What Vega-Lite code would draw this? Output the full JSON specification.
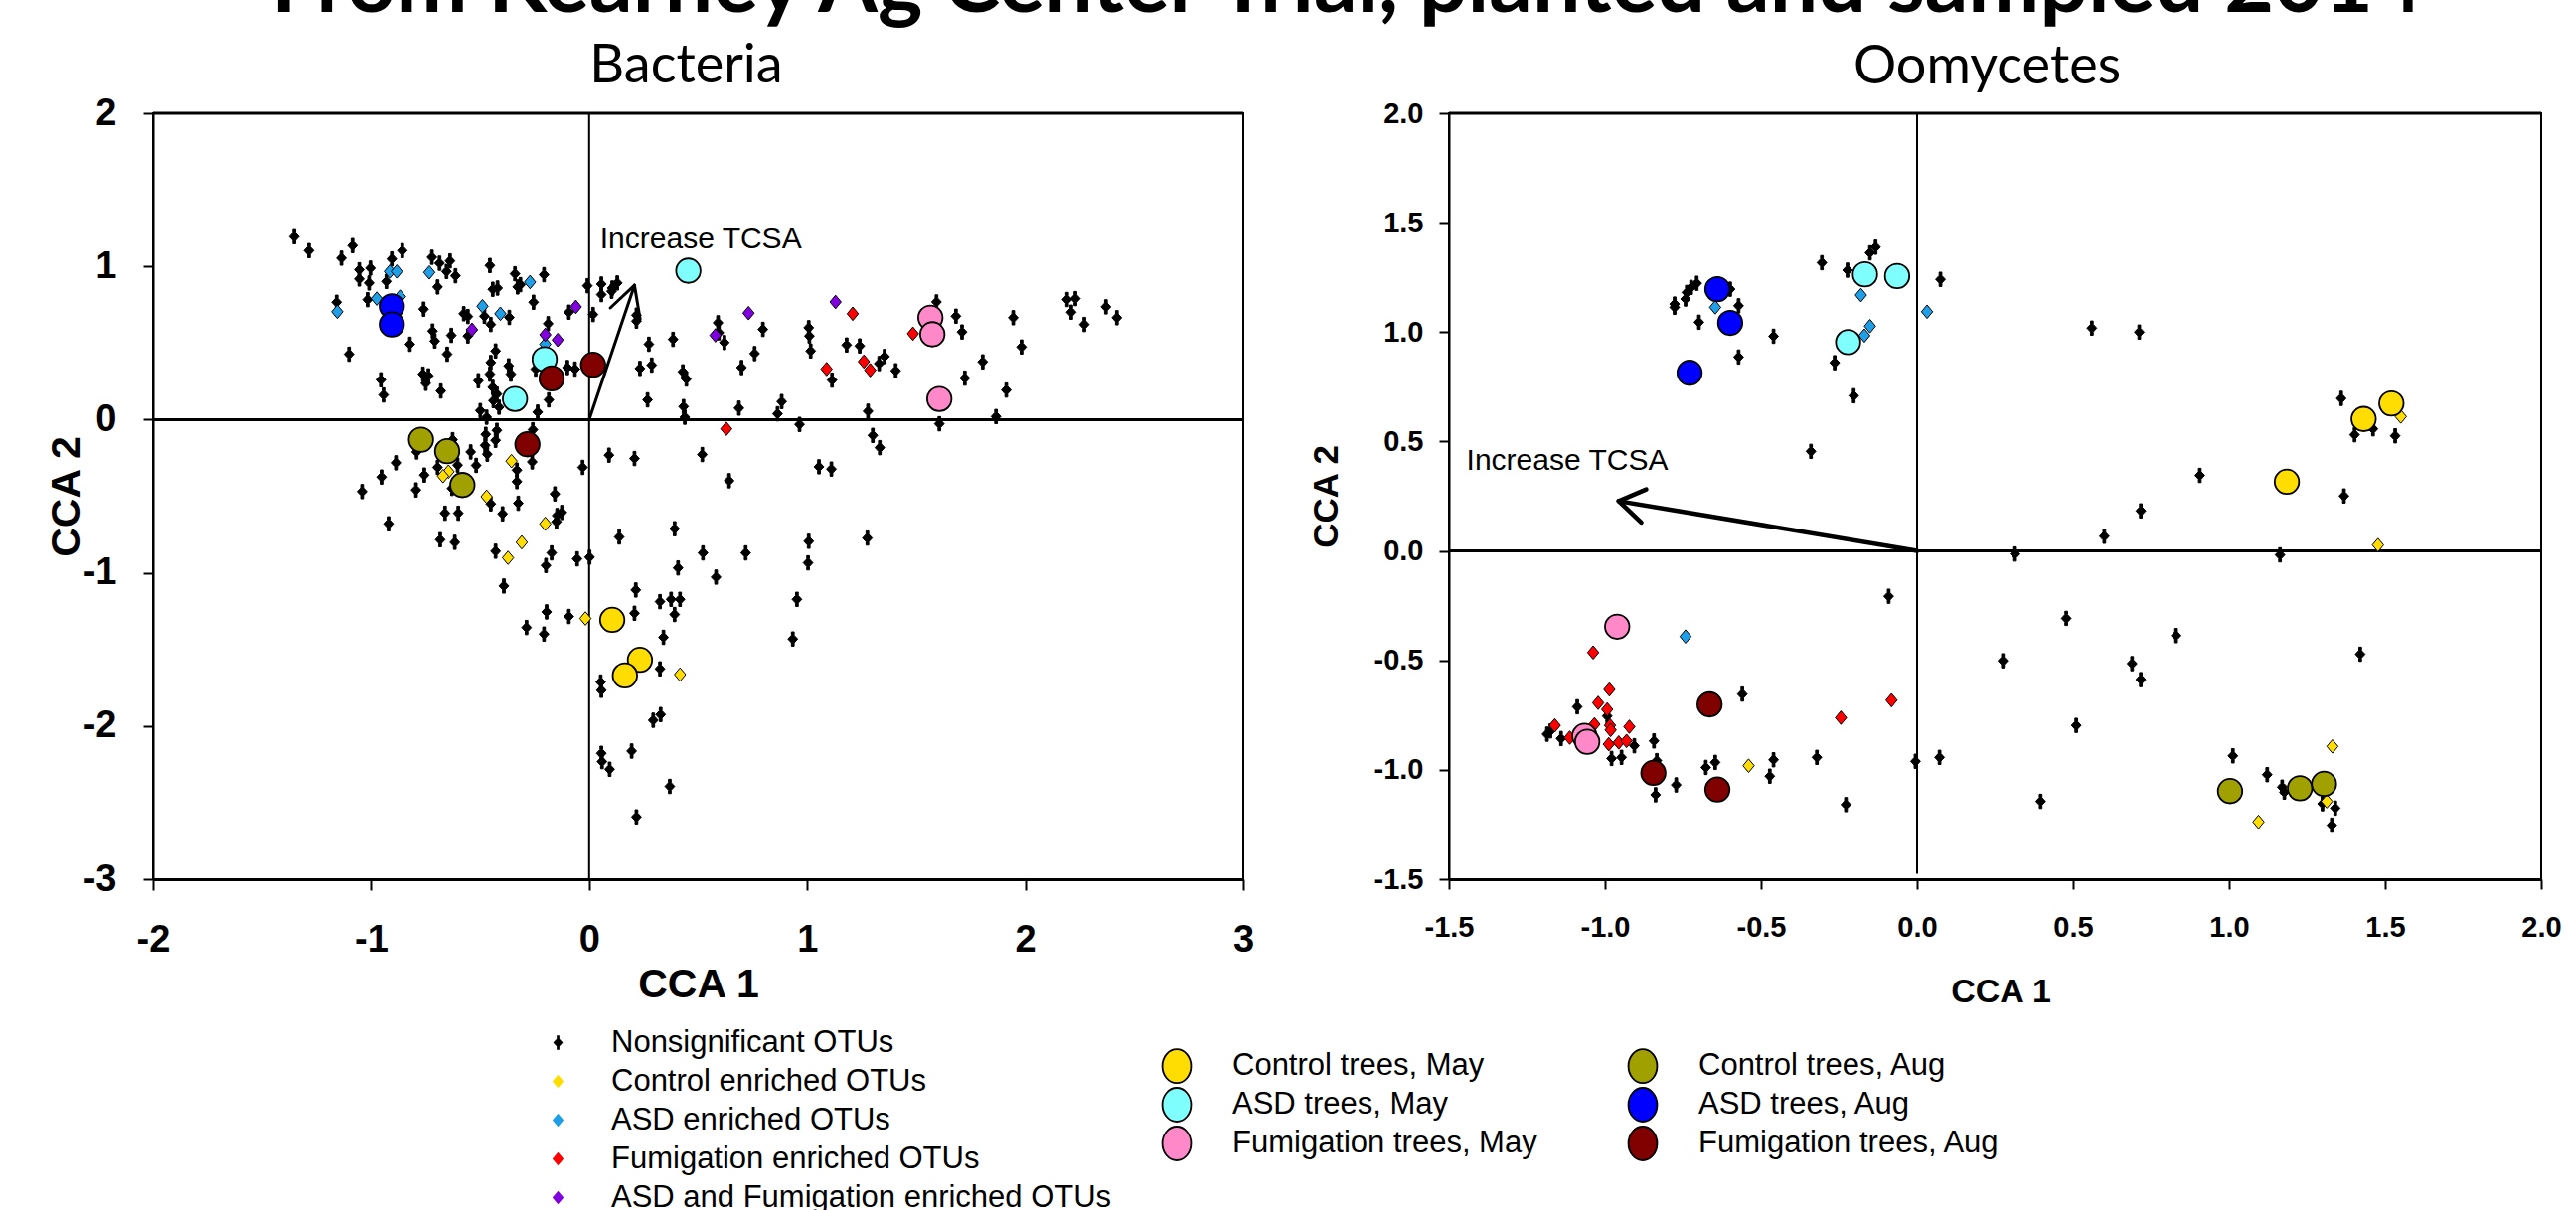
{
  "$schema": "https://vega.github.io/schema/vega-lite/v6.json",
  "autosize": {"type": "none"},
  "padding": {"left": 154, "top": 114, "right": 2438, "bottom": 1104},
  "background": "white",
  "title": {"text": "From Kearney Ag Center Trial, planted and sampled 2014", "font": "Lato", "fontSize": 86, "fontWeight": "bold", "color": "black", "anchor": "start", "frame": "group", "dx": 119, "baseline": "alphabetic", "offset": -59},
  "bounds": "flush",
  "spacing": 207,
  "datasets": {
    "bacOTU": [
      {"x":-1.352,"y":1.194,"t":"Nonsignificant OTUs"},{"x":-1.285,"y":1.103,"t":"Nonsignificant OTUs"},{"x":-1.136,"y":1.054,"t":"Nonsignificant OTUs"},{"x":-1.085,"y":1.136,"t":"Nonsignificant OTUs"},{"x":-1.054,"y":0.978,"t":"Nonsignificant OTUs"},{"x":-1.054,"y":0.918,"t":"Nonsignificant OTUs"},{"x":-1.003,"y":0.989,"t":"Nonsignificant OTUs"},{"x":-1.009,"y":0.892,"t":"Nonsignificant OTUs"},{"x":-0.930,"y":0.902,"t":"Nonsignificant OTUs"},{"x":-0.905,"y":1.049,"t":"Nonsignificant OTUs"},
      {"x":-0.857,"y":1.103,"t":"Nonsignificant OTUs"},{"x":-0.721,"y":1.060,"t":"Nonsignificant OTUs"},{"x":-0.686,"y":1.021,"t":"Nonsignificant OTUs"},{"x":-0.638,"y":1.036,"t":"Nonsignificant OTUs"},{"x":-0.654,"y":0.967,"t":"Nonsignificant OTUs"},{"x":-0.613,"y":0.939,"t":"Nonsignificant OTUs"},{"x":-0.695,"y":0.866,"t":"Nonsignificant OTUs"},{"x":-0.455,"y":1.006,"t":"Nonsignificant OTUs"},{"x":-0.340,"y":0.952,"t":"Nonsignificant OTUs"},{"x":-0.328,"y":0.866,"t":"Nonsignificant OTUs"},
      {"x":-0.315,"y":0.881,"t":"Nonsignificant OTUs"},{"x":-0.442,"y":0.851,"t":"Nonsignificant OTUs"},{"x":-0.420,"y":0.859,"t":"Nonsignificant OTUs"},{"x":-0.207,"y":0.946,"t":"Nonsignificant OTUs"},{"x":-0.255,"y":0.766,"t":"Nonsignificant OTUs"},{"x":-0.008,"y":0.874,"t":"Nonsignificant OTUs"},{"x":0.056,"y":0.885,"t":"Nonsignificant OTUs"},{"x":0.056,"y":0.816,"t":"Nonsignificant OTUs"},{"x":0.106,"y":0.859,"t":"Nonsignificant OTUs"},{"x":0.129,"y":0.892,"t":"Nonsignificant OTUs"},
      {"x":0.103,"y":0.838,"t":"Nonsignificant OTUs"},{"x":-1.158,"y":0.766,"t":"Nonsignificant OTUs"},{"x":-1.016,"y":0.783,"t":"Nonsignificant OTUs"},{"x":-0.759,"y":0.721,"t":"Nonsignificant OTUs"},{"x":-0.575,"y":0.691,"t":"Nonsignificant OTUs"},{"x":-0.556,"y":0.673,"t":"Nonsignificant OTUs"},{"x":-0.480,"y":0.675,"t":"Nonsignificant OTUs"},{"x":-0.451,"y":0.621,"t":"Nonsignificant OTUs"},{"x":-0.366,"y":0.667,"t":"Nonsignificant OTUs"},{"x":-0.188,"y":0.626,"t":"Nonsignificant OTUs"},
      {"x":-0.093,"y":0.701,"t":"Nonsignificant OTUs"},{"x":0.018,"y":0.686,"t":"Nonsignificant OTUs"},{"x":0.217,"y":0.682,"t":"Nonsignificant OTUs"},{"x":0.217,"y":0.643,"t":"Nonsignificant OTUs"},{"x":-0.718,"y":0.578,"t":"Nonsignificant OTUs"},{"x":-0.708,"y":0.513,"t":"Nonsignificant OTUs"},{"x":-0.632,"y":0.550,"t":"Nonsignificant OTUs"},{"x":-0.556,"y":0.546,"t":"Nonsignificant OTUs"},{"x":-0.822,"y":0.492,"t":"Nonsignificant OTUs"},{"x":-1.101,"y":0.427,"t":"Nonsignificant OTUs"},
      {"x":-0.651,"y":0.427,"t":"Nonsignificant OTUs"},{"x":-0.429,"y":0.448,"t":"Nonsignificant OTUs"},{"x":-0.451,"y":0.373,"t":"Nonsignificant OTUs"},{"x":-0.369,"y":0.351,"t":"Nonsignificant OTUs"},{"x":-0.359,"y":0.297,"t":"Nonsignificant OTUs"},{"x":-0.455,"y":0.297,"t":"Nonsignificant OTUs"},{"x":-0.762,"y":0.297,"t":"Nonsignificant OTUs"},{"x":-0.737,"y":0.286,"t":"Nonsignificant OTUs"},{"x":-0.749,"y":0.237,"t":"Nonsignificant OTUs"},{"x":-0.680,"y":0.187,"t":"Nonsignificant OTUs"},
      {"x":-0.955,"y":0.260,"t":"Nonsignificant OTUs"},{"x":-0.943,"y":0.161,"t":"Nonsignificant OTUs"},{"x":-0.508,"y":0.254,"t":"Nonsignificant OTUs"},{"x":-0.442,"y":0.211,"t":"Nonsignificant OTUs"},{"x":-0.423,"y":0.167,"t":"Nonsignificant OTUs"},{"x":-0.439,"y":0.124,"t":"Nonsignificant OTUs"},{"x":-0.413,"y":0.081,"t":"Nonsignificant OTUs"},{"x":-0.499,"y":0.059,"t":"Nonsignificant OTUs"},{"x":-0.470,"y":0.016,"t":"Nonsignificant OTUs"},{"x":-0.236,"y":0.049,"t":"Nonsignificant OTUs"},
      {"x":-0.185,"y":0.129,"t":"Nonsignificant OTUs"},{"x":-0.245,"y":0.330,"t":"Nonsignificant OTUs"},{"x":-0.100,"y":0.340,"t":"Nonsignificant OTUs"},{"x":-0.065,"y":0.330,"t":"Nonsignificant OTUs"},{"x":0.274,"y":0.492,"t":"Nonsignificant OTUs"},{"x":0.385,"y":0.524,"t":"Nonsignificant OTUs"},{"x":0.591,"y":0.632,"t":"Nonsignificant OTUs"},{"x":0.595,"y":0.567,"t":"Nonsignificant OTUs"},{"x":0.797,"y":0.589,"t":"Nonsignificant OTUs"},{"x":0.620,"y":0.503,"t":"Nonsignificant OTUs"},
      {"x":0.759,"y":0.431,"t":"Nonsignificant OTUs"},{"x":0.233,"y":0.334,"t":"Nonsignificant OTUs"},{"x":0.287,"y":0.356,"t":"Nonsignificant OTUs"},{"x":0.430,"y":0.312,"t":"Nonsignificant OTUs"},{"x":0.446,"y":0.265,"t":"Nonsignificant OTUs"},{"x":0.699,"y":0.340,"t":"Nonsignificant OTUs"},{"x":0.268,"y":0.129,"t":"Nonsignificant OTUs"},{"x":0.433,"y":0.085,"t":"Nonsignificant OTUs"},{"x":0.439,"y":0.016,"t":"Nonsignificant OTUs"},{"x":0.687,"y":0.075,"t":"Nonsignificant OTUs"},
      {"x":0.883,"y":0.118,"t":"Nonsignificant OTUs"},{"x":0.864,"y":0.038,"t":"Nonsignificant OTUs"},{"x":1.007,"y":0.600,"t":"Nonsignificant OTUs"},{"x":1.010,"y":0.546,"t":"Nonsignificant OTUs"},{"x":1.016,"y":0.448,"t":"Nonsignificant OTUs"},{"x":1.181,"y":0.487,"t":"Nonsignificant OTUs"},{"x":1.241,"y":0.481,"t":"Nonsignificant OTUs"},{"x":1.114,"y":0.258,"t":"Nonsignificant OTUs"},{"x":1.355,"y":0.412,"t":"Nonsignificant OTUs"},{"x":1.330,"y":0.366,"t":"Nonsignificant OTUs"},
      {"x":1.406,"y":0.319,"t":"Nonsignificant OTUs"},{"x":1.279,"y":0.055,"t":"Nonsignificant OTUs"},{"x":1.593,"y":0.768,"t":"Nonsignificant OTUs"},{"x":1.682,"y":0.675,"t":"Nonsignificant OTUs"},{"x":1.710,"y":0.572,"t":"Nonsignificant OTUs"},{"x":1.723,"y":0.271,"t":"Nonsignificant OTUs"},{"x":1.805,"y":0.377,"t":"Nonsignificant OTUs"},{"x":1.945,"y":0.665,"t":"Nonsignificant OTUs"},{"x":1.983,"y":0.474,"t":"Nonsignificant OTUs"},{"x":1.913,"y":0.193,"t":"Nonsignificant OTUs"},
      {"x":1.866,"y":0.020,"t":"Nonsignificant OTUs"},{"x":2.192,"y":0.784,"t":"Nonsignificant OTUs"},{"x":2.230,"y":0.790,"t":"Nonsignificant OTUs"},{"x":2.211,"y":0.701,"t":"Nonsignificant OTUs"},{"x":2.271,"y":0.621,"t":"Nonsignificant OTUs"},{"x":2.370,"y":0.736,"t":"Nonsignificant OTUs"},{"x":2.420,"y":0.665,"t":"Nonsignificant OTUs"},{"x":1.606,"y":-0.027,"t":"Nonsignificant OTUs"},{"x":0.965,"y":-0.031,"t":"Nonsignificant OTUs"},
      {"x":1.301,"y":-0.103,"t":"Nonsignificant OTUs"},{"x":1.333,"y":-0.183,"t":"Nonsignificant OTUs"},{"x":-0.423,"y":-0.070,"t":"Nonsignificant OTUs"},{"x":-0.474,"y":-0.096,"t":"Nonsignificant OTUs"},{"x":-0.429,"y":-0.135,"t":"Nonsignificant OTUs"},{"x":-0.477,"y":-0.168,"t":"Nonsignificant OTUs"},{"x":-0.467,"y":-0.226,"t":"Nonsignificant OTUs"},{"x":-0.258,"y":-0.066,"t":"Nonsignificant OTUs"},{"x":-0.626,"y":-0.131,"t":"Nonsignificant OTUs"},{"x":-0.791,"y":-0.211,"t":"Nonsignificant OTUs"},
      {"x":-0.543,"y":-0.211,"t":"Nonsignificant OTUs"},{"x":-0.886,"y":-0.282,"t":"Nonsignificant OTUs"},{"x":-0.695,"y":-0.312,"t":"Nonsignificant OTUs"},{"x":-0.603,"y":-0.297,"t":"Nonsignificant OTUs"},{"x":-0.518,"y":-0.299,"t":"Nonsignificant OTUs"},{"x":-0.331,"y":-0.330,"t":"Nonsignificant OTUs"},{"x":-0.331,"y":-0.405,"t":"Nonsignificant OTUs"},{"x":-0.261,"y":-0.276,"t":"Nonsignificant OTUs"},{"x":-0.756,"y":-0.362,"t":"Nonsignificant OTUs"},{"x":-0.952,"y":-0.375,"t":"Nonsignificant OTUs"},
      {"x":-1.041,"y":-0.470,"t":"Nonsignificant OTUs"},{"x":-0.794,"y":-0.459,"t":"Nonsignificant OTUs"},{"x":-0.629,"y":-0.449,"t":"Nonsignificant OTUs"},{"x":-0.157,"y":-0.485,"t":"Nonsignificant OTUs"},{"x":-0.451,"y":-0.550,"t":"Nonsignificant OTUs"},{"x":-0.325,"y":-0.546,"t":"Nonsignificant OTUs"},{"x":-0.661,"y":-0.611,"t":"Nonsignificant OTUs"},{"x":-0.600,"y":-0.611,"t":"Nonsignificant OTUs"},{"x":-0.397,"y":-0.615,"t":"Nonsignificant OTUs"},{"x":-0.125,"y":-0.606,"t":"Nonsignificant OTUs"},
      {"x":-0.147,"y":-0.626,"t":"Nonsignificant OTUs"},{"x":-0.150,"y":-0.667,"t":"Nonsignificant OTUs"},{"x":-0.920,"y":-0.680,"t":"Nonsignificant OTUs"},{"x":-0.683,"y":-0.784,"t":"Nonsignificant OTUs"},{"x":-0.616,"y":-0.801,"t":"Nonsignificant OTUs"},{"x":-0.429,"y":-0.859,"t":"Nonsignificant OTUs"},{"x":-0.172,"y":-0.870,"t":"Nonsignificant OTUs"},{"x":-0.055,"y":-0.909,"t":"Nonsignificant OTUs"},{"x":0.002,"y":-0.898,"t":"Nonsignificant OTUs"},{"x":-0.198,"y":-0.952,"t":"Nonsignificant OTUs"},
      {"x":-0.391,"y":-1.086,"t":"Nonsignificant OTUs"},{"x":-0.195,"y":-1.255,"t":"Nonsignificant OTUs"},{"x":-0.093,"y":-1.285,"t":"Nonsignificant OTUs"},{"x":-0.287,"y":-1.357,"t":"Nonsignificant OTUs"},{"x":-0.207,"y":-1.400,"t":"Nonsignificant OTUs"},{"x":-0.030,"y":-0.312,"t":"Nonsignificant OTUs"},{"x":0.091,"y":-0.232,"t":"Nonsignificant OTUs"},{"x":0.208,"y":-0.254,"t":"Nonsignificant OTUs"},{"x":0.519,"y":-0.228,"t":"Nonsignificant OTUs"},{"x":0.642,"y":-0.399,"t":"Nonsignificant OTUs"},
      {"x":1.054,"y":-0.308,"t":"Nonsignificant OTUs"},{"x":1.111,"y":-0.323,"t":"Nonsignificant OTUs"},{"x":0.392,"y":-0.712,"t":"Nonsignificant OTUs"},{"x":0.138,"y":-0.766,"t":"Nonsignificant OTUs"},{"x":1.007,"y":-0.794,"t":"Nonsignificant OTUs"},{"x":1.276,"y":-0.773,"t":"Nonsignificant OTUs"},{"x":0.522,"y":-0.870,"t":"Nonsignificant OTUs"},{"x":0.718,"y":-0.870,"t":"Nonsignificant OTUs"},{"x":1.004,"y":-0.935,"t":"Nonsignificant OTUs"},{"x":0.408,"y":-0.968,"t":"Nonsignificant OTUs"},
      {"x":0.582,"y":-1.028,"t":"Nonsignificant OTUs"},{"x":0.214,"y":-1.112,"t":"Nonsignificant OTUs"},{"x":0.325,"y":-1.188,"t":"Nonsignificant OTUs"},{"x":0.376,"y":-1.173,"t":"Nonsignificant OTUs"},{"x":0.417,"y":-1.173,"t":"Nonsignificant OTUs"},{"x":0.953,"y":-1.173,"t":"Nonsignificant OTUs"},{"x":0.208,"y":-1.264,"t":"Nonsignificant OTUs"},{"x":0.392,"y":-1.272,"t":"Nonsignificant OTUs"},{"x":0.341,"y":-1.421,"t":"Nonsignificant OTUs"},{"x":0.934,"y":-1.432,"t":"Nonsignificant OTUs"},
      {"x":0.325,"y":-1.627,"t":"Nonsignificant OTUs"},{"x":0.053,"y":-1.713,"t":"Nonsignificant OTUs"},{"x":0.056,"y":-1.767,"t":"Nonsignificant OTUs"},{"x":0.328,"y":-1.925,"t":"Nonsignificant OTUs"},{"x":0.294,"y":-1.962,"t":"Nonsignificant OTUs"},{"x":0.056,"y":-2.178,"t":"Nonsignificant OTUs"},{"x":0.059,"y":-2.232,"t":"Nonsignificant OTUs"},{"x":0.195,"y":-2.163,"t":"Nonsignificant OTUs"},{"x":0.094,"y":-2.282,"t":"Nonsignificant OTUs"},{"x":0.370,"y":-2.394,"t":"Nonsignificant OTUs"},
      {"x":0.217,"y":-2.593,"t":"Nonsignificant OTUs"},
      {"x":-0.914,"y":0.967,"t":"ASD enriched OTUs"},{"x":-0.882,"y":0.967,"t":"ASD enriched OTUs"},{"x":-0.733,"y":0.961,"t":"ASD enriched OTUs"},{"x":-0.271,"y":0.898,"t":"ASD enriched OTUs"},{"x":-0.974,"y":0.790,"t":"ASD enriched OTUs"},{"x":-0.867,"y":0.803,"t":"ASD enriched OTUs"},{"x":-1.155,"y":0.704,"t":"ASD enriched OTUs"},{"x":-0.489,"y":0.740,"t":"ASD enriched OTUs"},{"x":-0.407,"y":0.691,"t":"ASD enriched OTUs"},{"x":-0.201,"y":0.492,"t":"ASD enriched OTUs"},
      {"x":-0.061,"y":0.736,"t":"ASD and Fumigation enriched OTUs"},{"x":-0.537,"y":0.587,"t":"ASD and Fumigation enriched OTUs"},{"x":-0.201,"y":0.554,"t":"ASD and Fumigation enriched OTUs"},{"x":-0.144,"y":0.520,"t":"ASD and Fumigation enriched OTUs"},{"x":0.731,"y":0.695,"t":"ASD and Fumigation enriched OTUs"},{"x":1.130,"y":0.768,"t":"ASD and Fumigation enriched OTUs"},{"x":0.579,"y":0.550,"t":"ASD and Fumigation enriched OTUs"},
      {"x":1.209,"y":0.691,"t":"Fumigation enriched OTUs"},{"x":1.485,"y":0.561,"t":"Fumigation enriched OTUs"},{"x":1.260,"y":0.379,"t":"Fumigation enriched OTUs"},{"x":1.089,"y":0.330,"t":"Fumigation enriched OTUs"},{"x":1.289,"y":0.323,"t":"Fumigation enriched OTUs"},{"x":0.629,"y":-0.060,"t":"Fumigation enriched OTUs"},
      {"x":-0.356,"y":-0.271,"t":"Control enriched OTUs"},{"x":-0.645,"y":-0.340,"t":"Control enriched OTUs"},{"x":-0.670,"y":-0.369,"t":"Control enriched OTUs"},{"x":-0.470,"y":-0.503,"t":"Control enriched OTUs"},{"x":-0.201,"y":-0.680,"t":"Control enriched OTUs"},{"x":-0.309,"y":-0.801,"t":"Control enriched OTUs"},{"x":-0.372,"y":-0.902,"t":"Control enriched OTUs"},{"x":-0.017,"y":-1.298,"t":"Control enriched OTUs"},{"x":0.417,"y":-1.664,"t":"Control enriched OTUs"}
    ],
    "bacTree": [
      {"x":-0.905,"y":0.740,"g":"ASD trees, Aug"},{"x":-0.905,"y":0.621,"g":"ASD trees, Aug"},
      {"x":0.455,"y":0.972,"g":"ASD trees, May"},{"x":-0.204,"y":0.394,"g":"ASD trees, May"},{"x":-0.340,"y":0.135,"g":"ASD trees, May"},
      {"x":0.018,"y":0.358,"g":"Fumigation trees, Aug"},{"x":-0.172,"y":0.269,"g":"Fumigation trees, Aug"},{"x":-0.283,"y":-0.161,"g":"Fumigation trees, Aug"},
      {"x":1.565,"y":0.665,"g":"Fumigation trees, May"},{"x":1.574,"y":0.557,"g":"Fumigation trees, May"},{"x":1.606,"y":0.135,"g":"Fumigation trees, May"},
      {"x":-0.771,"y":-0.131,"g":"Control trees, Aug"},{"x":-0.651,"y":-0.206,"g":"Control trees, Aug"},{"x":-0.581,"y":-0.427,"g":"Control trees, Aug"},
      {"x":0.106,"y":-1.307,"g":"Control trees, May"},{"x":0.233,"y":-1.568,"g":"Control trees, May"},{"x":0.164,"y":-1.670,"g":"Control trees, May"}
    ],
    "bacArrow": [
      {"x":0,"y":0,"x2":0.208,"y2":0.877},{"x":0.208,"y":0.877,"x2":0.097,"y2":0.729},{"x":0.208,"y":0.877,"x2":0.234,"y2":0.655}
    ],
    "bacText": [{"x":0.05,"y":1.175,"label":"Increase TCSA"}],
    "oomOTU": [
      {"x":-0.133,"y":1.388,"t":"Nonsignificant OTUs"},{"x":-0.151,"y":1.362,"t":"Nonsignificant OTUs"},{"x":-0.305,"y":1.317,"t":"Nonsignificant OTUs"},{"x":-0.223,"y":1.283,"t":"Nonsignificant OTUs"},{"x":0.075,"y":1.241,"t":"Nonsignificant OTUs"},{"x":-0.706,"y":1.223,"t":"Nonsignificant OTUs"},{"x":-0.724,"y":1.204,"t":"Nonsignificant OTUs"},{"x":-0.738,"y":1.181,"t":"Nonsignificant OTUs"},{"x":-0.742,"y":1.151,"t":"Nonsignificant OTUs"},{"x":-0.777,"y":1.128,"t":"Nonsignificant OTUs"},
      {"x":-0.777,"y":1.113,"t":"Nonsignificant OTUs"},{"x":-0.599,"y":1.196,"t":"Nonsignificant OTUs"},{"x":-0.572,"y":1.120,"t":"Nonsignificant OTUs"},{"x":-0.699,"y":1.045,"t":"Nonsignificant OTUs"},{"x":-0.460,"y":0.981,"t":"Nonsignificant OTUs"},{"x":-0.572,"y":0.886,"t":"Nonsignificant OTUs"},{"x":-0.264,"y":0.860,"t":"Nonsignificant OTUs"},{"x":-0.203,"y":0.709,"t":"Nonsignificant OTUs"},{"x":-0.340,"y":0.455,"t":"Nonsignificant OTUs"},{"x":0.560,"y":1.018,"t":"Nonsignificant OTUs"},
      {"x":0.712,"y":1.000,"t":"Nonsignificant OTUs"},{"x":0.906,"y":0.345,"t":"Nonsignificant OTUs"},{"x":1.359,"y":0.697,"t":"Nonsignificant OTUs"},{"x":1.402,"y":0.531,"t":"Nonsignificant OTUs"},{"x":1.461,"y":0.558,"t":"Nonsignificant OTUs"},{"x":1.532,"y":0.526,"t":"Nonsignificant OTUs"},{"x":1.368,"y":0.251,"t":"Nonsignificant OTUs"},{"x":0.717,"y":0.183,"t":"Nonsignificant OTUs"},{"x":0.600,"y":0.067,"t":"Nonsignificant OTUs"},{"x":0.314,"y":-0.014,"t":"Nonsignificant OTUs"},
      {"x":1.163,"y":-0.018,"t":"Nonsignificant OTUs"},{"x":-0.091,"y":-0.207,"t":"Nonsignificant OTUs"},{"x":0.478,"y":-0.308,"t":"Nonsignificant OTUs"},{"x":0.830,"y":-0.387,"t":"Nonsignificant OTUs"},{"x":1.420,"y":-0.472,"t":"Nonsignificant OTUs"},{"x":0.275,"y":-0.502,"t":"Nonsignificant OTUs"},{"x":0.689,"y":-0.515,"t":"Nonsignificant OTUs"},{"x":0.717,"y":-0.588,"t":"Nonsignificant OTUs"},{"x":0.510,"y":-0.797,"t":"Nonsignificant OTUs"},{"x":-0.560,"y":-0.654,"t":"Nonsignificant OTUs"},
      {"x":-1.089,"y":-0.712,"t":"Nonsignificant OTUs"},{"x":-0.993,"y":-0.754,"t":"Nonsignificant OTUs"},{"x":-0.843,"y":-0.868,"t":"Nonsignificant OTUs"},{"x":-0.906,"y":-0.890,"t":"Nonsignificant OTUs"},{"x":-1.141,"y":-0.857,"t":"Nonsignificant OTUs"},{"x":-1.186,"y":-0.837,"t":"Nonsignificant OTUs"},{"x":-1.175,"y":-0.822,"t":"Nonsignificant OTUs"},{"x":-0.979,"y":-0.948,"t":"Nonsignificant OTUs"},{"x":-0.947,"y":-0.943,"t":"Nonsignificant OTUs"},{"x":-0.834,"y":-0.958,"t":"Nonsignificant OTUs"},
      {"x":-0.677,"y":-0.989,"t":"Nonsignificant OTUs"},{"x":-0.647,"y":-0.966,"t":"Nonsignificant OTUs"},{"x":-0.460,"y":-0.954,"t":"Nonsignificant OTUs"},{"x":-0.472,"y":-1.029,"t":"Nonsignificant OTUs"},{"x":-0.321,"y":-0.943,"t":"Nonsignificant OTUs"},{"x":-0.005,"y":-0.961,"t":"Nonsignificant OTUs"},{"x":0.072,"y":-0.943,"t":"Nonsignificant OTUs"},{"x":-0.772,"y":-1.069,"t":"Nonsignificant OTUs"},{"x":-0.838,"y":-1.114,"t":"Nonsignificant OTUs"},{"x":-0.228,"y":-1.159,"t":"Nonsignificant OTUs"},
      {"x":0.396,"y":-1.144,"t":"Nonsignificant OTUs"},{"x":1.012,"y":-0.936,"t":"Nonsignificant OTUs"},{"x":1.122,"y":-1.022,"t":"Nonsignificant OTUs"},{"x":1.170,"y":-1.079,"t":"Nonsignificant OTUs"},{"x":1.177,"y":-1.102,"t":"Nonsignificant OTUs"},{"x":1.299,"y":-1.155,"t":"Nonsignificant OTUs"},{"x":1.340,"y":-1.175,"t":"Nonsignificant OTUs"},{"x":1.329,"y":-1.253,"t":"Nonsignificant OTUs"},
      {"x":-1.038,"y":-0.464,"t":"Fumigation enriched OTUs"},{"x":-0.986,"y":-0.633,"t":"Fumigation enriched OTUs"},{"x":-1.022,"y":-0.694,"t":"Fumigation enriched OTUs"},{"x":-0.993,"y":-0.724,"t":"Fumigation enriched OTUs"},{"x":-1.161,"y":-0.797,"t":"Fumigation enriched OTUs"},{"x":-1.034,"y":-0.792,"t":"Fumigation enriched OTUs"},{"x":-0.984,"y":-0.797,"t":"Fumigation enriched OTUs"},{"x":-0.982,"y":-0.818,"t":"Fumigation enriched OTUs"},{"x":-0.922,"y":-0.803,"t":"Fumigation enriched OTUs"},{"x":-0.988,"y":-0.883,"t":"Fumigation enriched OTUs"},
      {"x":-0.956,"y":-0.875,"t":"Fumigation enriched OTUs"},{"x":-0.931,"y":-0.868,"t":"Fumigation enriched OTUs"},{"x":-1.113,"y":-0.853,"t":"Fumigation enriched OTUs"},{"x":-0.082,"y":-0.682,"t":"Fumigation enriched OTUs"},{"x":-0.244,"y":-0.762,"t":"Fumigation enriched OTUs"},
      {"x":-0.647,"y":1.113,"t":"ASD enriched OTUs"},{"x":-0.180,"y":1.169,"t":"ASD enriched OTUs"},{"x":-0.151,"y":1.027,"t":"ASD enriched OTUs"},{"x":-0.169,"y":0.984,"t":"ASD enriched OTUs"},{"x":0.032,"y":1.093,"t":"ASD enriched OTUs"},{"x":-0.742,"y":-0.391,"t":"ASD enriched OTUs"},
      {"x":1.550,"y":0.614,"t":"Control enriched OTUs"},{"x":1.477,"y":0.027,"t":"Control enriched OTUs"},{"x":-0.540,"y":-0.981,"t":"Control enriched OTUs"},{"x":1.331,"y":-0.893,"t":"Control enriched OTUs"},{"x":1.094,"y":-1.238,"t":"Control enriched OTUs"},{"x":1.313,"y":-1.144,"t":"Control enriched OTUs"}
    ],
    "oomTree": [
      {"x":-0.640,"y":1.196,"g":"ASD trees, Aug"},{"x":-0.599,"y":1.042,"g":"ASD trees, Aug"},{"x":-0.729,"y":0.814,"g":"ASD trees, Aug"},
      {"x":-0.167,"y":1.264,"g":"ASD trees, May"},{"x":-0.064,"y":1.256,"g":"ASD trees, May"},{"x":-0.221,"y":0.954,"g":"ASD trees, May"},
      {"x":1.520,"y":0.674,"g":"Control trees, May"},{"x":1.431,"y":0.603,"g":"Control trees, May"},{"x":1.185,"y":0.316,"g":"Control trees, May"},
      {"x":-0.961,"y":-0.346,"g":"Fumigation trees, May"},{"x":-1.066,"y":-0.845,"g":"Fumigation trees, May"},{"x":-1.057,"y":-0.872,"g":"Fumigation trees, May"},
      {"x":-0.665,"y":-0.701,"g":"Fumigation trees, Aug"},{"x":-0.845,"y":-1.014,"g":"Fumigation trees, Aug"},{"x":-0.640,"y":-1.090,"g":"Fumigation trees, Aug"},
      {"x":1.003,"y":-1.097,"g":"Control trees, Aug"},{"x":1.227,"y":-1.084,"g":"Control trees, Aug"},{"x":1.304,"y":-1.064,"g":"Control trees, Aug"}
    ],
    "oomArrow": [
      {"x":0,"y":0,"x2":-0.956,"y2":0.228},{"x":-0.956,"y":0.228,"x2":-0.868,"y2":0.281},{"x":-0.956,"y":0.228,"x2":-0.884,"y2":0.130}
    ],
    "oomText": [{"x":-1.444,"y":0.413,"label":"Increase TCSA"}]
  },
  "hconcat": [
    {
      "width": 1097,
      "height": 771,
      "title": {"text": "Bacteria", "font": "Lato", "fontSize": 54, "fontWeight": "normal", "color": "black", "baseline": "alphabetic", "offset": -42, "frame": "group", "anchor": "middle", "dx": -12},
      "layer": [
        {"data": {"values": [{}]}, "mark": {"type": "rule", "color": "black", "strokeWidth": 2}, "encoding": {"x": {"datum": 0, "type": "quantitative"}}},
        {"data": {"values": [{}]}, "mark": {"type": "rule", "color": "black", "strokeWidth": 3}, "encoding": {"y": {"datum": 0, "type": "quantitative"}}},
        {"data": {"values": [{}]}, "mark": {"type": "rule", "color": "black", "strokeWidth": 3}, "encoding": {"y": {"datum": 2, "type": "quantitative"}}},
        {
          "data": {"name": "bacOTU"},
          "mark": {"type": "point", "filled": true, "stroke": "black", "strokeWidth": 1, "size": 230, "opacity": 1},
          "encoding": {
            "x": {"field": "x", "type": "quantitative", "title": "CCA 1", "scale": {"domain": [-2, 3], "nice": false, "zero": false},
              "axis": {"values": [-2, -1, 0, 1, 2, 3], "format": "d", "labelFontSize": 38, "tickSize": 11, "labelPadding": 31, "domainWidth": 3, "titleFontSize": 41, "titleBaseline": "alphabetic", "titleY": 118, "labelExpr": "replace(datum.label, '\u2212', '-')"}},
            "y": {"field": "y", "type": "quantitative", "title": "CCA 2", "scale": {"domain": [-3, 2], "nice": false, "zero": false},
              "axis": {"values": [-3, -2, -1, 0, 1, 2], "format": "d", "labelFontSize": 38, "tickSize": 10, "labelPadding": 27, "domainWidth": 2, "titleFontSize": 41, "titleBaseline": "alphabetic", "titleX": -75, "labelExpr": "replace(datum.label, '\u2212', '-')"}},
            "fill": {"field": "t", "type": "nominal",
              "scale": {"domain": ["Nonsignificant OTUs", "Control enriched OTUs", "ASD enriched OTUs", "Fumigation enriched OTUs", "ASD and Fumigation enriched OTUs"], "range": ["#000000", "#FFDD00", "#1E9FE8", "#FF0000", "#8000E0"]},
              "legend": {"title": null, "orient": "none", "legendX": 392, "legendY": 920, "symbolSize": 230, "labelFontSize": 31, "labelOffset": 38, "rowPadding": 7, "labelLimit": 1000, "symbolStrokeColor": "black", "symbolStrokeWidth": 1, "padding": 0, "direction": "vertical"}},
            "shape": {"field": "t", "type": "nominal",
              "scale": {"domain": ["Nonsignificant OTUs", "Control enriched OTUs", "ASD enriched OTUs", "Fumigation enriched OTUs", "ASD and Fumigation enriched OTUs"], "range": ["M-0.18,-0.95H0.18V-0.5L0.65,0L0.18,0.5V0.95H-0.18V0.5L-0.65,0L-0.18,-0.5Z", "M0,-0.9L0.75,0L0,0.9L-0.75,0Z", "M0,-0.9L0.75,0L0,0.9L-0.75,0Z", "M0,-0.9L0.75,0L0,0.9L-0.75,0Z", "M0,-0.9L0.75,0L0,0.9L-0.75,0Z"]},
              "legend": {"title": null, "orient": "none", "legendX": 392, "legendY": 920, "symbolSize": 230, "labelFontSize": 31, "labelOffset": 38, "rowPadding": 7, "labelLimit": 1000, "symbolStrokeColor": "black", "symbolStrokeWidth": 1, "padding": 0, "direction": "vertical"}}
          }
        },
        {
          "data": {"name": "bacArrow"},
          "mark": {"type": "rule", "color": "black", "strokeWidth": 3, "strokeCap": "round"},
          "encoding": {"x": {"field": "x", "type": "quantitative", "title": "CCA 1"}, "y": {"field": "y", "type": "quantitative", "title": "CCA 2"}, "x2": {"field": "x2"}, "y2": {"field": "y2"}}
        },
        {
          "data": {"name": "bacText"},
          "mark": {"type": "text", "align": "left", "baseline": "middle", "font": "Liberation Sans", "fontSize": 30, "color": "black"},
          "encoding": {"x": {"field": "x", "type": "quantitative", "title": "CCA 1"}, "y": {"field": "y", "type": "quantitative", "title": "CCA 2"}, "text": {"field": "label"}}
        },
        {
          "data": {"name": "bacTree"},
          "mark": {"type": "point", "filled": true, "stroke": "black", "strokeWidth": 1.8, "size": 600, "opacity": 1},
          "encoding": {
            "x": {"field": "x", "type": "quantitative", "title": "CCA 1"},
            "y": {"field": "y", "type": "quantitative", "title": "CCA 2"},
            "color": {"field": "g", "type": "nominal",
              "scale": {"domain": ["Control trees, May", "ASD trees, May", "Fumigation trees, May", "Control trees, Aug", "ASD trees, Aug", "Fumigation trees, Aug"], "range": ["#FFDD00", "#80FFFF", "#FF88C8", "#A0A000", "#0000FF", "#800000"]},
              "legend": {"title": null, "orient": "none", "legendX": 1012, "legendY": 941, "columns": 2, "symbolType": "M-0.85,0A0.85,1 0 1,0 0.85,0A0.85,1 0 1,0 -0.85,0Z", "symbolSize": 1156, "labelFontSize": 31, "labelOffset": 38, "rowPadding": -3, "columnPadding": 87, "labelLimit": 1000, "symbolStrokeColor": "black", "symbolStrokeWidth": 1.8, "padding": 0}}
          }
        }
      ]
    },
    {
      "width": 1099,
      "height": 771,
      "title": {"text": "Oomycetes", "font": "Lato", "fontSize": 54, "fontWeight": "normal", "color": "black", "baseline": "alphabetic", "offset": -37.5, "frame": "group", "anchor": "middle", "dx": -8},
      "layer": [
        {"data": {"values": [{}]}, "mark": {"type": "rule", "color": "black", "strokeWidth": 2}, "encoding": {"x": {"datum": 0, "type": "quantitative"}, "y": {"datum": 2, "type": "quantitative"}, "y2": {"datum": -1.475}}},
        {"data": {"values": [{}]}, "mark": {"type": "rule", "color": "black", "strokeWidth": 3}, "encoding": {"y": {"datum": 0, "type": "quantitative"}}},
        {"data": {"values": [{}]}, "mark": {"type": "rule", "color": "black", "strokeWidth": 3}, "encoding": {"y": {"datum": 2, "type": "quantitative"}}},
        {
          "data": {"name": "oomOTU"},
          "mark": {"type": "point", "filled": true, "stroke": "black", "strokeWidth": 1, "size": 230, "opacity": 1},
          "encoding": {
            "x": {"field": "x", "type": "quantitative", "title": "CCA 1", "scale": {"domain": [-1.5, 2], "nice": false, "zero": false},
              "axis": {"values": [-1.5, -1, -0.5, 0, 0.5, 1, 1.5, 2], "format": ".1f", "labelFontSize": 29, "tickSize": 10, "labelPadding": 24, "domainWidth": 3, "titleFontSize": 34, "titleBaseline": "alphabetic", "titleY": 123, "titleX": 555, "labelExpr": "replace(datum.label, '\u2212', '-')"}},
            "y": {"field": "y", "type": "quantitative", "title": "CCA 2", "scale": {"domain": [-1.5, 2], "nice": false, "zero": false},
              "axis": {"values": [-1.5, -1, -0.5, 0, 0.5, 1, 1.5, 2], "format": ".1f", "labelFontSize": 29, "tickSize": 10, "labelPadding": 16, "domainWidth": 2, "titleFontSize": 35, "titleBaseline": "alphabetic", "titleX": -113, "labelExpr": "replace(datum.label, '\u2212', '-')"}},
            "fill": {"field": "t", "type": "nominal",
              "scale": {"domain": ["Nonsignificant OTUs", "Control enriched OTUs", "ASD enriched OTUs", "Fumigation enriched OTUs", "ASD and Fumigation enriched OTUs"], "range": ["#000000", "#FFDD00", "#1E9FE8", "#FF0000", "#8000E0"]},
              "legend": {"title": null, "orient": "none", "legendX": 392, "legendY": 920, "symbolSize": 230, "labelFontSize": 31, "labelOffset": 38, "rowPadding": 7, "labelLimit": 1000, "symbolStrokeColor": "black", "symbolStrokeWidth": 1, "padding": 0, "direction": "vertical"}},
            "shape": {"field": "t", "type": "nominal",
              "scale": {"domain": ["Nonsignificant OTUs", "Control enriched OTUs", "ASD enriched OTUs", "Fumigation enriched OTUs", "ASD and Fumigation enriched OTUs"], "range": ["M-0.18,-0.95H0.18V-0.5L0.65,0L0.18,0.5V0.95H-0.18V0.5L-0.65,0L-0.18,-0.5Z", "M0,-0.9L0.75,0L0,0.9L-0.75,0Z", "M0,-0.9L0.75,0L0,0.9L-0.75,0Z", "M0,-0.9L0.75,0L0,0.9L-0.75,0Z", "M0,-0.9L0.75,0L0,0.9L-0.75,0Z"]},
              "legend": {"title": null, "orient": "none", "legendX": 392, "legendY": 920, "symbolSize": 230, "labelFontSize": 31, "labelOffset": 38, "rowPadding": 7, "labelLimit": 1000, "symbolStrokeColor": "black", "symbolStrokeWidth": 1, "padding": 0, "direction": "vertical"}}
          }
        },
        {
          "data": {"name": "oomArrow"},
          "mark": {"type": "rule", "color": "black", "strokeWidth": 4.5, "strokeCap": "round"},
          "encoding": {"x": {"field": "x", "type": "quantitative", "title": "CCA 1"}, "y": {"field": "y", "type": "quantitative", "title": "CCA 2"}, "x2": {"field": "x2"}, "y2": {"field": "y2"}}
        },
        {
          "data": {"name": "oomText"},
          "mark": {"type": "text", "align": "left", "baseline": "middle", "font": "Liberation Sans", "fontSize": 30, "color": "black"},
          "encoding": {"x": {"field": "x", "type": "quantitative", "title": "CCA 1"}, "y": {"field": "y", "type": "quantitative", "title": "CCA 2"}, "text": {"field": "label"}}
        },
        {
          "data": {"name": "oomTree"},
          "mark": {"type": "point", "filled": true, "stroke": "black", "strokeWidth": 1.8, "size": 600, "opacity": 1},
          "encoding": {
            "x": {"field": "x", "type": "quantitative", "title": "CCA 1"},
            "y": {"field": "y", "type": "quantitative", "title": "CCA 2"},
            "color": {"field": "g", "type": "nominal",
              "scale": {"domain": ["Control trees, May", "ASD trees, May", "Fumigation trees, May", "Control trees, Aug", "ASD trees, Aug", "Fumigation trees, Aug"], "range": ["#FFDD00", "#80FFFF", "#FF88C8", "#A0A000", "#0000FF", "#800000"]},
              "legend": {"title": null, "orient": "none", "legendX": 1012, "legendY": 941, "columns": 2, "symbolType": "M-0.85,0A0.85,1 0 1,0 0.85,0A0.85,1 0 1,0 -0.85,0Z", "symbolSize": 1156, "labelFontSize": 31, "labelOffset": 38, "rowPadding": -3, "columnPadding": 87, "labelLimit": 1000, "symbolStrokeColor": "black", "symbolStrokeWidth": 1.8, "padding": 0}}
          }
        }
      ]
    }
  ],
  "config": {
    "view": {"stroke": "black", "strokeWidth": 2},
    "axis": {"grid": false, "domainColor": "black", "tickColor": "black", "tickWidth": 2, "labelColor": "black", "titleColor": "black", "labelFont": "Liberation Sans", "titleFont": "Liberation Sans", "labelFontWeight": "bold", "titleFontWeight": "bold", "labelFlush": false, "labelOverlap": false},
    "legend": {"labelFont": "Liberation Sans", "labelColor": "black"}
  }
}
